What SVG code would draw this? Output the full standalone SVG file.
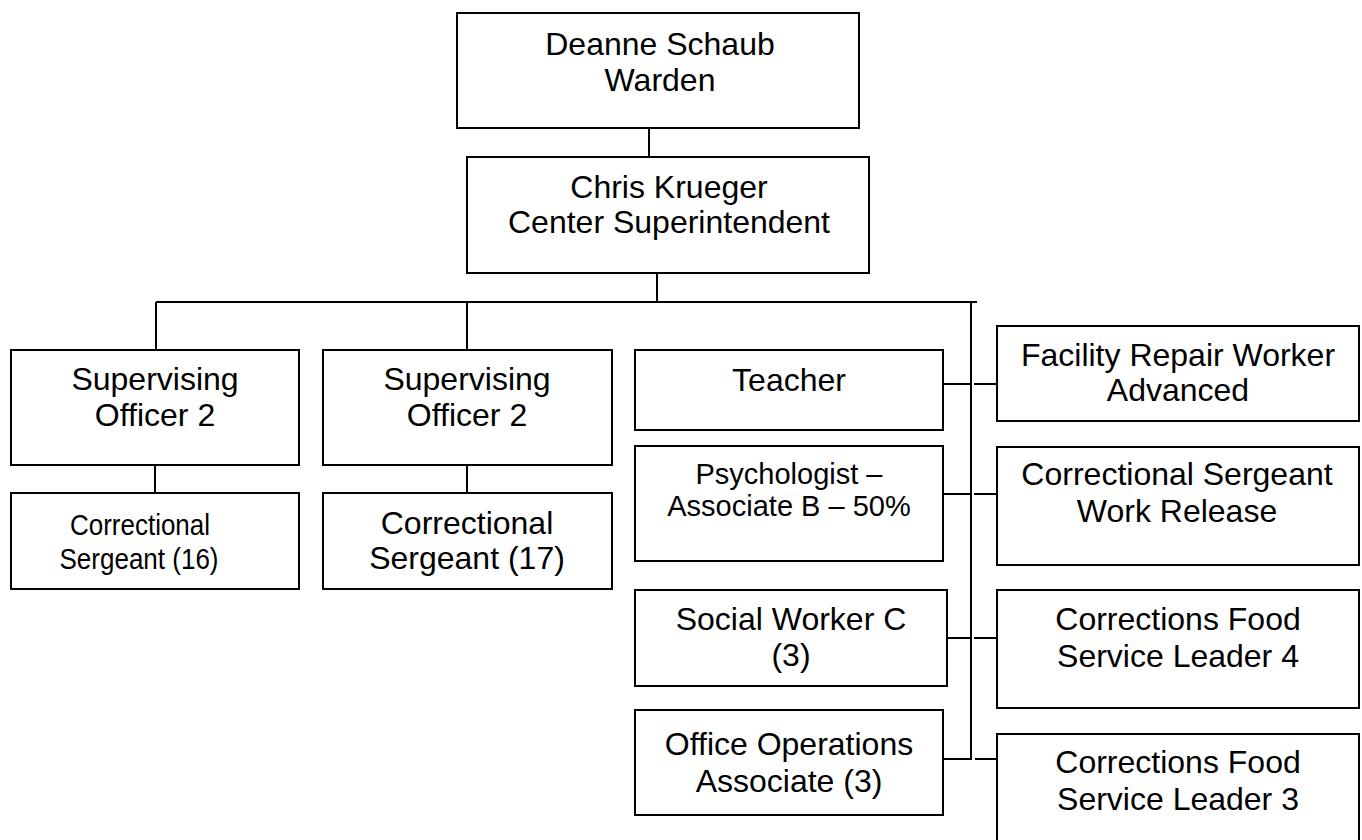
<svg xmlns="http://www.w3.org/2000/svg" width="1362" height="840" viewBox="0 0 1362 840">
<style>
rect.box{fill:#fff;stroke:#000;stroke-width:2}
text{font-family:"Liberation Sans",Arial,sans-serif;font-size:32px;fill:#000;text-anchor:middle}
text.s{font-size:29px}
.con line{stroke:#000;stroke-width:2}
</style>
<rect width="1362" height="840" fill="#fff"/>
<g class="con" id="connectors">
<line x1="649" y1="124" x2="649" y2="162"/>
<line x1="657" y1="273" x2="657" y2="303"/>
<line x1="156" y1="302" x2="977" y2="302"/>
<line x1="156" y1="302" x2="156" y2="350"/>
<line x1="467" y1="302" x2="467" y2="350"/>
<line x1="155" y1="465" x2="155" y2="493"/>
<line x1="467" y1="465" x2="467" y2="493"/>
<line x1="971" y1="302" x2="971" y2="760"/>
<line x1="943" y1="384" x2="971" y2="384"/>
<line x1="974" y1="384" x2="998" y2="384"/>
<line x1="943" y1="494" x2="971" y2="494"/>
<line x1="974" y1="494" x2="998" y2="494"/>
<line x1="947" y1="638" x2="971" y2="638"/>
<line x1="974" y1="638" x2="998" y2="638"/>
<line x1="940" y1="759" x2="971" y2="759"/>
<line x1="975" y1="759" x2="998" y2="759"/>
</g>
<g id="warden"><rect class="box" x="457" y="13" width="402" height="115"/><text x="660" y="55">Deanne Schaub</text><text x="660" y="91">Warden</text></g>
<g id="superintendent"><rect class="box" x="467" y="157" width="402" height="116"/><text x="669" y="198">Chris Krueger</text><text x="669" y="233">Center Superintendent</text></g>
<g id="so2a"><rect class="box" x="11" y="350" width="288" height="115"/><text x="155" y="390">Supervising</text><text x="155" y="426">Officer 2</text></g>
<g id="so2b"><rect class="box" x="323" y="350" width="289" height="115"/><text x="467" y="390">Supervising</text><text x="467" y="426">Officer 2</text></g>
<g id="sgt16"><rect class="box" x="11" y="493" width="288" height="96"/><text class="s" x="140" y="535" textLength="140" lengthAdjust="spacingAndGlyphs">Correctional</text><text class="s" x="139" y="569" textLength="159" lengthAdjust="spacingAndGlyphs">Sergeant (16)</text></g>
<g id="sgt17"><rect class="box" x="323" y="493" width="289" height="96"/><text x="467" y="534">Correctional</text><text x="467" y="569">Sergeant (17)</text></g>
<g id="teacher"><rect class="box" x="635" y="350" width="308" height="80"/><text x="789" y="391">Teacher</text></g>
<g id="psych"><rect class="box" x="635" y="446" width="308" height="115"/><text class="s" x="789" y="484">Psychologist –</text><text class="s" x="789" y="516">Associate B – 50%</text></g>
<g id="social"><rect class="box" x="635" y="590" width="312" height="96"/><text x="791" y="630">Social Worker C</text><text x="791" y="666">(3)</text></g>
<g id="office"><rect class="box" x="635" y="710" width="308" height="105"/><text x="789" y="755">Office Operations</text><text x="789" y="792">Associate (3)</text></g>
<g id="facility"><rect class="box" x="997" y="326" width="362" height="95"/><text x="1178" y="366">Facility Repair Worker</text><text x="1178" y="401">Advanced</text></g>
<g id="sgtwr"><rect class="box" x="997" y="447" width="362" height="118"/><text x="1177" y="485">Correctional Sergeant</text><text x="1177" y="522">Work Release</text></g>
<g id="food4"><rect class="box" x="997" y="590" width="362" height="118"/><text x="1178" y="630">Corrections Food</text><text x="1178" y="667">Service Leader 4</text></g>
<g id="food3"><rect class="box" x="997" y="734" width="362" height="120"/><text x="1178" y="773">Corrections Food</text><text x="1178" y="810">Service Leader 3</text></g>
</svg>
